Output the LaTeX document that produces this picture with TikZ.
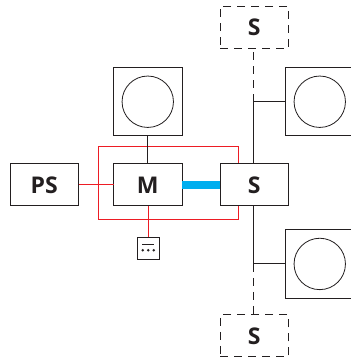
\documentclass[tikz,border=0pt]{standalone}
\usepackage{fontspec}
\setmainfont{Open Sans}
\usetikzlibrary{positioning,backgrounds}
\definecolor{inkline}{HTML}{231F20}
\definecolor{busred}{HTML}{ED1C24}
\definecolor{busblue}{HTML}{00AEEF}

\begin{document}
\begin{tikzpicture}[
  x=1pt, y=1pt,
  node distance=28pt and 35pt,
  every node/.style={outer sep=0pt, inner sep=0pt},
  unit/.style={draw=inkline, fill=white, line width=1pt, minimum width=68.5pt, minimum height=42pt, align=center, font=\fontsize{23}{23}\selectfont\bfseries, text=inkline},
  ghost/.style={unit, dash pattern=on 8pt off 6pt},
  motorbox/.style={draw=inkline, fill=white, line width=1pt, minimum width=68.5pt, minimum height=68.5pt},
  wheel/.style={draw=inkline, circle, line width=0.8pt, minimum size=51.4pt},
  wire/.style={draw=inkline, line width=1pt},
  dashwire/.style={wire, dash pattern=on 8pt off 6pt},
  redwire/.style={draw=busred, line width=1pt},
  dispbox/.style={draw=inkline, fill=white, line width=0.9pt, minimum size=22pt}
]
\useasboundingbox (0,0) rectangle (350,358);

\node[unit] at (147.75,173) (master) {M};
\node[unit, left=of master]          (ps)      {PS};
\node[unit, right=38pt of master]    (slave)   {S};
\node[ghost, above=115.5pt of slave] (slaveup) {S};
\node[ghost, below=109pt of slave]   (slavedown) {S};

\node[motorbox, above=of master]                        (motorm)    {};
\node[motorbox, above right=28pt and -3pt of slave]     (motorup)   {};
\node[motorbox, below right=23.7pt and -3pt of slave]   (motordown) {};

\foreach \n in {motorm,motorup,motordown}
  \node[wheel] at (\n.center) (\n-wheel) {};

\node[dispbox, below=31pt of master, xshift=0.5pt] (disp) {};

% red control loop sits behind the boxes
\begin{scope}[on background layer]
  \node[redwire, minimum width=140pt, minimum height=73pt] at (168,174.5) (loop) {};
\end{scope}

\draw[redwire] (ps.east) -- (master.west);
\draw[redwire] (master.south -| disp.north) -- (disp.north);
\draw[wire] (motorm.south) -- (master.north);
\draw[draw=busblue, line width=7.5pt] (master.east) -- (slave.west);

% vertical bus on the right
\coordinate (bustop) at ([xshift=-1pt]slave.north);
\coordinate (busbot) at ([xshift=-1pt]slave.south);
\coordinate (tapup)   at (bustop |- motorup.center);
\coordinate (tapdown) at (busbot |- motordown.center);
\coordinate (endup)   at (bustop |- slaveup.south);
\coordinate (enddown) at (busbot |- slavedown.north);

\draw[wire] (bustop) -- (tapup) -- (motorup.west);
\draw[wire] (busbot) -- (tapdown) -- (motordown.west);
\draw[dashwire] (tapup) -- (endup);
\draw[dashwire] (tapdown) -- (enddown);

% little display icon
\draw[draw=inkline, line width=0.9pt] ([shift={(-6pt,3.8pt)}]disp.center) -- ([shift={(6pt,3.8pt)}]disp.center);
\foreach \dx in {-5.5,0,5.5}
  \fill[inkline] ([shift={(\dx pt,-2.2pt)}]disp.center) circle (1.4pt);

\end{tikzpicture}
\end{document}
